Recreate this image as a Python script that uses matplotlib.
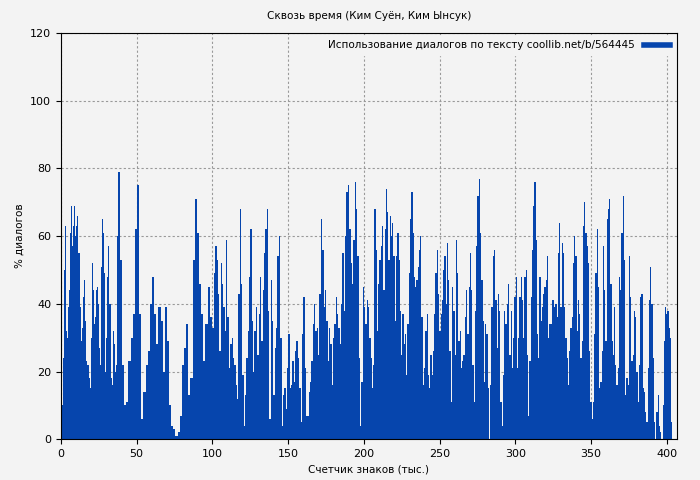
import numpy as np
import matplotlib
matplotlib.use("Agg")
import matplotlib.pyplot as plt

# share of dialogue per chunk of text, in pieces with their x spans
part1a = [10, 10, 24, 50, 63, 32, 30, 39, 44, 61, 69, 57, 63, 69, 60, 63, 66, 55, 39, 29,
          33, 42, 47, 35, 23, 22, 22, 18, 15, 30, 52, 44, 34, 36, 44, 45, 40, 27, 22, 51,
          65, 61, 49, 20, 30, 48, 57, 40, 18, 16, 32, 28, 20, 22, 60]
part1b = [79, 53, 22, 10, 11,
          23, 30, 37, 62, 75, 37, 6, 14, 22, 26, 40, 48, 37, 28, 39, 35, 20, 39, 29, 10,
          4, 3, 1, 2, 7, 22, 27, 34, 13, 18, 53, 71, 61, 46, 37, 23, 34, 45, 36, 33]
part2 = [49, 57, 53, 43, 26, 52, 46, 39, 32, 59, 36, 21, 28, 30, 24, 22, 16, 12, 43, 68,
         46, 19, 4, 13, 24, 32, 48, 62, 35, 20, 32, 39, 25, 37, 48, 29, 44, 55, 62, 68,
         38, 6, 47, 35, 13, 27, 33, 54, 60, 30, 4, 13, 15, 9, 21, 31, 15, 16, 23, 17,
         26, 29, 24, 15, 5, 31, 42, 21, 7, 7, 14, 17, 23, 34, 40, 32, 33, 25, 43, 65,
         56, 39, 44, 35, 23, 33, 28, 16, 30, 34, 42, 37, 33, 28, 40, 55, 38, 60, 73, 75,
         62, 52, 46, 59, 76, 68, 54, 24, 4, 17, 45, 39]
part3 = [34, 41, 39, 30, 24, 15, 22, 68, 56, 32, 46, 53, 57, 63, 44, 62, 74, 67, 53, 66,
         60, 64, 54, 35, 54, 61, 53, 38, 25, 37, 28, 31, 19, 34, 49, 65, 73, 61, 48, 45,
         47, 51, 56, 60, 36, 16, 21, 32, 37, 19, 15, 25, 19, 26, 37, 49, 56, 43, 32, 37,
         41, 50, 54, 40, 58, 47, 26, 11, 45, 38, 25, 59, 49, 29, 32, 21, 23, 25, 36, 44,
         31, 45, 55, 44, 22, 11, 38, 57, 72, 77, 61, 47, 35, 17, 34, 31, 15, 0, 16, 39,
         54, 56, 41, 27, 43, 38, 11, 4, 19, 38, 34, 40, 46, 25, 38, 21, 30, 42, 48]
part4 = [21, 30, 42, 48, 41, 30, 48, 50, 25, 7, 23, 42, 56, 69, 76, 59, 31, 24, 48, 35,
         39, 43, 45, 47, 54, 30, 34, 34, 41, 41, 39, 40, 36, 55, 64, 39, 58, 55, 39, 30,
         24, 16, 26, 33, 36, 52, 60, 54, 32, 41, 37, 24, 29, 63, 70, 61, 57, 52, 26, 11,
         6, 11, 31, 49, 62, 45, 15, 17, 26, 57, 44, 29, 65, 68, 71, 46, 29, 25, 39, 22,
         16, 21, 48, 44, 61, 72, 53, 13, 18, 16, 54, 42, 23, 25, 38, 36, 20, 11, 22, 42,
         43, 15, 14, 8, 5, 21, 41, 51, 40, 24, 5, 0, 8, 13, 4, 2, 0, 10, 29, 39,
         37, 38, 33, 30, 5, 0]
parts = [part1a, part1b, part2, part3, part4]
spans = [(0, 37.5), (37.5, 101), (101, 201), (201, 301), (301, 404.5)]

title = "Сквозь время (Ким Суён, Ким Ынсук)"
legend_label = "Использование диалогов по тексту coollib.net/b/564445"
bg = "#f3f3f3"
blue = "#0645ad"

fig, ax = plt.subplots(figsize=(7, 4.8), dpi=100)
fig.patch.set_facecolor(bg)
ax.set_facecolor(bg)

for vals, (a, b) in zip(parts, spans):
    w = (b - a) / len(vals)
    xs = a + w * np.arange(len(vals))
    ax.bar(xs, vals, width=w * 1.02, align="edge", color=blue, linewidth=0)

ax.set_xlim(0, 406.6)
ax.set_ylim(0, 120)
ax.set_xticks(np.arange(0, 401, 50))
ax.set_yticks(np.arange(0, 121, 20))
ax.grid(True, color="#999999", linestyle=(0, (2, 2)), linewidth=0.8)
ax.set_axisbelow(True)
ax.tick_params(labelsize=8)

ax.set_title(title, fontsize=7.5, pad=10)
ax.set_xlabel("Счетчик знаков (тыс.)", fontsize=7.5)
ax.set_ylabel("% диалогов", fontsize=7.5)

handle = plt.Line2D([], [], color=blue, linewidth=4)
ax.legend([handle], [legend_label], loc="upper right", fontsize=7.5,
          frameon=True, framealpha=1, facecolor=bg, edgecolor=bg,
          markerfirst=False, handlelength=2.5, borderaxespad=0.3)

fig.subplots_adjust(left=0.087, right=0.967, top=0.931, bottom=0.085)
fig.savefig("out.png", facecolor=bg)
